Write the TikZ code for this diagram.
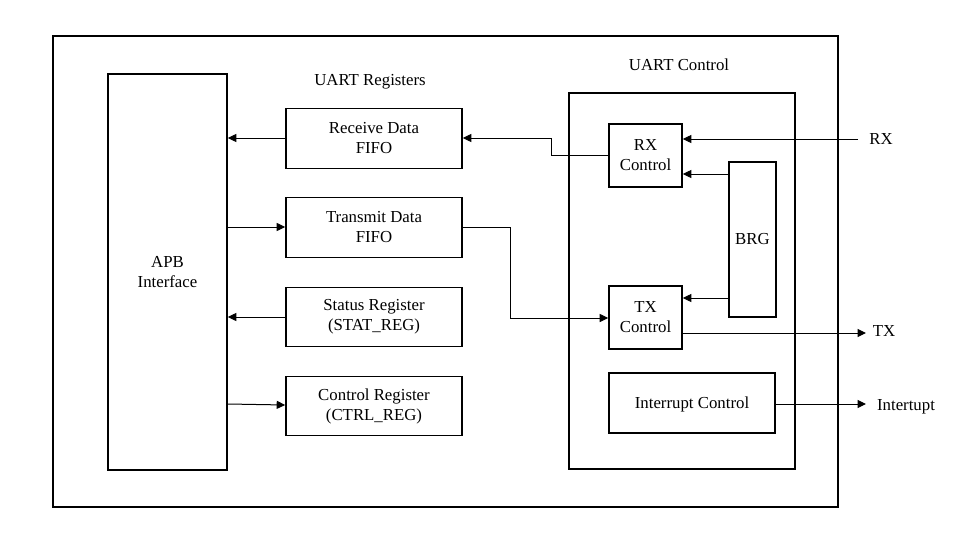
\documentclass[tikz,border=0pt]{standalone}
\usepackage{fontspec}
\setmainfont{Liberation Serif}
\usetikzlibrary{arrows.meta}
\begin{document}
\begin{tikzpicture}[x=1pt,y=-1pt,
  every node/.style={font=\fontsize{16.8}{20}\selectfont},
  blk/.style={draw, line width=1.6pt, inner sep=0pt, align=center},
  lbl/.style={inner sep=0pt, text depth=0pt},
  arr/.style={line width=1pt, -{Triangle[length=8.5pt,width=8pt]}}]
\useasboundingbox (0,0) rectangle (965,532);
\node[blk, minimum width=785, minimum height=471] (outer) at (445.5,271.5) {};
\node[blk, minimum width=119, minimum height=396] (apb) at (167.5,272) {APB\\Interface};
\node[lbl] (regl) at (370,80) {UART Registers};
\node[blk, minimum width=176, minimum height=60] (rxf) at (374,138.5) {Receive Data\\FIFO};
\node[blk, minimum width=176, minimum height=60] (txf) at (374,227.5) {Transmit Data\\FIFO};
\node[blk, minimum width=176, minimum height=59] (stat) at (374,317) {Status Register\\(STAT\_REG)};
\node[blk, minimum width=176, minimum height=59] (ctrl) at (374,406) {Control Register\\(CTRL\_REG)};
\node[lbl] (ucl) at (679,65) {UART Control};
\node[blk, minimum width=226, minimum height=376] (uc) at (682,281) {};
\node[blk, minimum width=73, minimum height=63] (rxc) at (645.5,155.5) {RX\\Control};
\node[blk, minimum width=47, minimum height=155] (brg) at (752.5,239.5) {BRG};
\node[blk, minimum width=73, minimum height=63] (txc) at (645.5,317.5) {TX\\Control};
\node[blk, minimum width=166, minimum height=60, text depth=0pt] (intc) at (692,403) {Interrupt Control};
\node[lbl] (rxl) at (881,139) {RX};
\node[lbl] (txl) at (884,331) {TX};
\node[lbl] (intl) at (906,405) {Intertupt};
\coordinate (rxin) at (858,139);
\coordinate (txout) at (866,333);
\coordinate (intout) at (866,404);
% arrows
\draw[arr] (rxin) -- (rxin -| rxc.east);
\draw[arr] (rxc.west) -- ++(-57,0) |- (rxf.east |- 0,138);
\draw[arr] (brg.west |- 0,174) -- (rxc.east |- 0,174);
\draw[arr] (brg.west |- 0,298) -- (txc.east |- 0,298);
\draw[arr] (txf.east |- 0,227) -- ++(48,0) |- (txc.west |- 0,318);
\draw[arr] (txc.east |- txout) -- (txout);
\draw[arr] (intc.east |- intout) -- (intout);
\draw[arr] (rxf.west |- 0,138) -- (apb.east |- 0,138);
\draw[arr] (apb.east |- 0,227) -- (txf.west |- 0,227);
\draw[arr] (stat.west |- 0,317) -- (apb.east |- 0,317);
\draw[arr] (apb.east |- 0,404) -- (ctrl.west |- 0,405);
\end{tikzpicture}
\end{document}
